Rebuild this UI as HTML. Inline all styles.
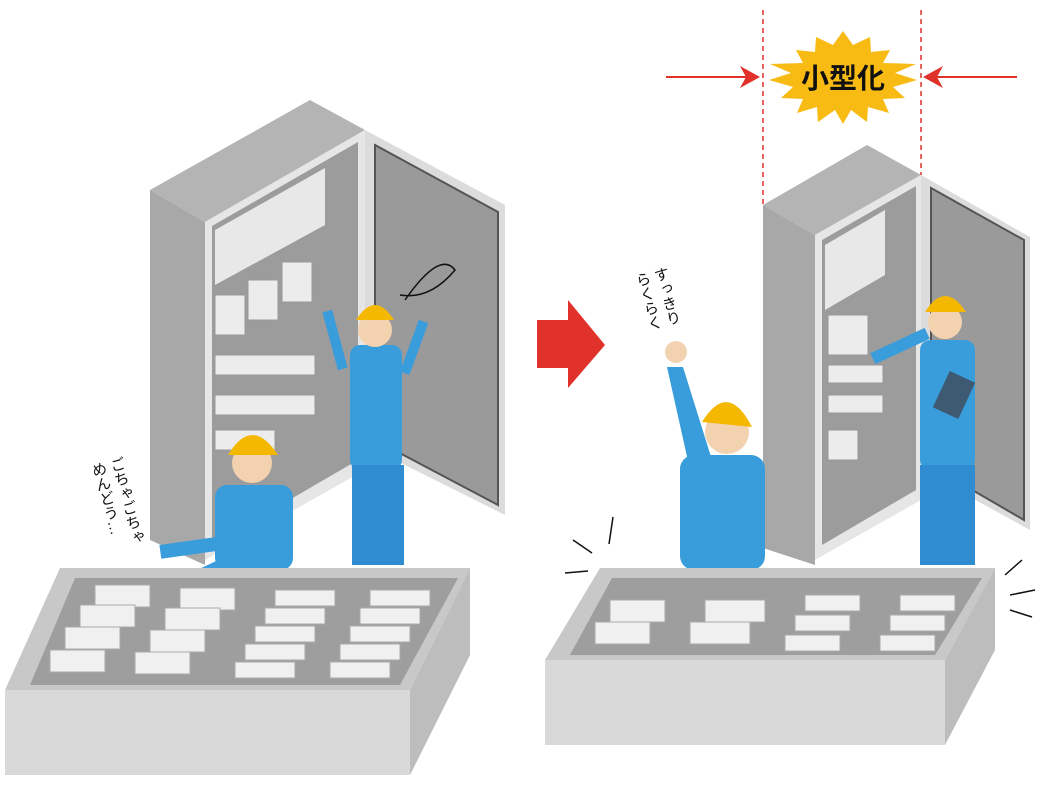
<!DOCTYPE html>
<html><head><meta charset="utf-8"><style>
html,body{margin:0;padding:0;background:#fff;width:1050px;height:800px;overflow:hidden;position:relative}
svg text{font-family:"Liberation Sans","Noto Sans CJK JP",sans-serif}
.v{position:absolute;writing-mode:vertical-rl;font-family:"Liberation Sans","Noto Sans CJK JP",sans-serif;font-size:15px;line-height:19px;color:#111;transform:rotate(-15deg);transform-origin:top right;white-space:nowrap}
</style></head><body>
<svg width="1050" height="800" viewBox="0 0 1050 800" xmlns="http://www.w3.org/2000/svg" style="position:absolute;left:0;top:0">
<!-- LEFT CABINET -->
<polygon points="150,190 310,100 365,130 205,222" fill="#b4b4b4"/>
<polygon points="150,190 205,222 205,565 150,540" fill="#a8a8a8"/>
<polygon points="205,222 365,130 365,470 205,560" fill="#e6e6e6"/>
<polygon points="212,226 358,142 358,460 212,545" fill="#9c9c9c"/>
<polygon points="215,230 325,168 325,225 215,285" fill="#e8e8e8"/>
<g fill="#ececec" stroke="#999" stroke-width="1">
<rect x="215" y="295" width="30" height="40"/><rect x="248" y="280" width="30" height="40"/><rect x="282" y="262" width="30" height="40"/>
<rect x="215" y="355" width="100" height="20"/><rect x="215" y="395" width="100" height="20"/><rect x="215" y="430" width="60" height="20"/>
</g>
<polygon points="365,130 505,205 505,515 365,445" fill="#dcdcdc"/>
<polygon points="375,145 498,212 498,505 375,440" fill="#9a9a9a" stroke="#555" stroke-width="2"/>
<path d="M405 300 Q440 250 455 270 Q430 300 400 295" fill="none" stroke="#111" stroke-width="1.5"/>
<!-- worker left standing -->
<rect x="350" y="345" width="52" height="125" rx="10" fill="#3a9ddb"/>
<rect x="352" y="465" width="52" height="100" fill="#2f8cd0"/>
<circle cx="375" cy="330" r="17" fill="#f3d2b0"/>
<path d="M356 320 Q375 290 394 320 Z" fill="#f5b800"/>
<rect x="330" y="310" width="10" height="60" fill="#3a9ddb" transform="rotate(-15 335 340)"/>
<rect x="410" y="320" width="10" height="55" fill="#3a9ddb" transform="rotate(20 415 345)"/>
<!-- worker left sitting -->
<rect x="215" y="485" width="78" height="85" rx="12" fill="#3a9ddb"/>
<circle cx="252" cy="463" r="20" fill="#f3d2b0"/>
<path d="M228 455 Q252 415 278 455 Z" fill="#f5b800"/>
<rect x="160" y="540" width="70" height="14" fill="#3a9ddb" transform="rotate(-8 195 547)"/>
<rect x="180" y="560" width="80" height="14" fill="#3a9ddb" transform="rotate(-25 220 567)"/>
<!-- LEFT BIN -->
<polygon points="5,690 60,568 470,568 410,690" fill="#c8c8c8"/>
<polygon points="30,685 75,578 458,578 400,685" fill="#9e9e9e"/>
<g fill="#f0f0f0" stroke="#aaa">
<rect x="95" y="585" width="55" height="22"/><rect x="80" y="605" width="55" height="22"/><rect x="65" y="627" width="55" height="22"/><rect x="50" y="650" width="55" height="22"/>
<rect x="180" y="588" width="55" height="22"/><rect x="165" y="608" width="55" height="22"/><rect x="150" y="630" width="55" height="22"/><rect x="135" y="652" width="55" height="22"/>
<rect x="275" y="590" width="60" height="16"/><rect x="265" y="608" width="60" height="16"/><rect x="255" y="626" width="60" height="16"/><rect x="245" y="644" width="60" height="16"/><rect x="235" y="662" width="60" height="16"/>
<rect x="370" y="590" width="60" height="16"/><rect x="360" y="608" width="60" height="16"/><rect x="350" y="626" width="60" height="16"/><rect x="340" y="644" width="60" height="16"/><rect x="330" y="662" width="60" height="16"/>
</g>
<polygon points="5,690 410,690 410,775 5,775" fill="#d9d9d9"/>
<polygon points="410,690 470,568 470,655 410,775" fill="#bdbdbd"/>
<!-- BIG ARROW -->
<polygon points="537,320 568,320 568,300 605,345 568,388 568,368 537,368" fill="#e0312a"/>
<!-- RIGHT CABINET -->
<polygon points="763,205 867,145 921,175 815,235" fill="#b4b4b4"/>
<polygon points="763,205 815,235 815,565 763,548" fill="#a8a8a8"/>
<polygon points="815,235 921,175 921,500 815,560" fill="#e6e6e6"/>
<polygon points="822,240 916,186 916,490 822,545" fill="#9c9c9c"/>
<polygon points="825,245 885,210 885,275 825,310" fill="#e8e8e8"/>
<g fill="#ececec" stroke="#999"><rect x="828" y="315" width="40" height="40"/><rect x="828" y="365" width="55" height="18"/><rect x="828" y="395" width="55" height="18"/><rect x="828" y="430" width="30" height="30"/></g>
<polygon points="921,175 1030,237 1030,530 921,470" fill="#dcdcdc"/>
<polygon points="931,188 1024,240 1024,520 931,466" fill="#9a9a9a" stroke="#555" stroke-width="2"/>
<!-- right workers -->
<rect x="920" y="340" width="55" height="130" rx="10" fill="#3a9ddb"/>
<rect x="920" y="465" width="55" height="100" fill="#2f8cd0"/>
<circle cx="945" cy="322" r="17" fill="#f3d2b0"/>
<path d="M925 312 Q945 280 966 312 Z" fill="#f5b800"/>
<rect x="870" y="340" width="60" height="12" fill="#3a9ddb" transform="rotate(-25 900 346)"/>
<rect x="940" y="375" width="28" height="40" fill="#3d5a72" transform="rotate(25 954 395)"/>
<rect x="680" y="455" width="85" height="115" rx="14" fill="#3a9ddb"/>
<circle cx="727" cy="432" r="22" fill="#f3d2b0"/>
<path d="M702 422 Q728 380 752 427 Z" fill="#f5b800"/>
<polygon points="667,367 683,367 712,460 690,470" fill="#3a9ddb"/>
<circle cx="676" cy="352" r="11" fill="#f3d2b0"/>
<g stroke="#111" stroke-width="1.5"><line x1="573" y1="540" x2="592" y2="553"/><line x1="565" y1="573" x2="588" y2="571"/><line x1="613" y1="517" x2="609" y2="544"/><line x1="1005" y1="575" x2="1022" y2="560"/><line x1="1010" y1="595" x2="1035" y2="590"/><line x1="1010" y1="610" x2="1032" y2="617"/></g>
<!-- RIGHT BIN -->
<polygon points="545,660 600,568 995,568 945,660" fill="#c8c8c8"/>
<polygon points="570,655 612,578 982,578 935,655" fill="#9e9e9e"/>
<g fill="#f0f0f0" stroke="#aaa">
<rect x="610" y="600" width="55" height="22"/><rect x="595" y="622" width="55" height="22"/>
<rect x="705" y="600" width="60" height="22"/><rect x="690" y="622" width="60" height="22"/>
<rect x="805" y="595" width="55" height="16"/><rect x="795" y="615" width="55" height="16"/><rect x="785" y="635" width="55" height="16"/>
<rect x="900" y="595" width="55" height="16"/><rect x="890" y="615" width="55" height="16"/><rect x="880" y="635" width="55" height="16"/>
</g>
<polygon points="545,660 945,660 945,745 545,745" fill="#d9d9d9"/>
<polygon points="945,660 995,568 995,650 945,745" fill="#bdbdbd"/>
<!-- dashed lines and arrows -->
<g stroke="#e0312a" stroke-width="1.5" stroke-dasharray="5,4"><line x1="763" y1="10" x2="763" y2="205"/><line x1="921" y1="10" x2="921" y2="175"/></g>
<g stroke="#e0312a" stroke-width="2"><line x1="666" y1="77" x2="748" y2="77"/><line x1="935" y1="77" x2="1017" y2="77"/></g>
<polygon points="760,77 740,66 746,77 740,88" fill="#e0312a"/>
<polygon points="923,77 943,66 937,77 943,88" fill="#e0312a"/>
<polygon fill="#f7bb14" points="843,31 853,45 870,37 871,52 890,50 883,63 916,64 895,73 917,80 893,87 905,98 883,99 889,113 868,107 867,122 851,110 843,124 835,110 818,122 817,107 797,113 803,99 781,98 793,87 769,80 791,73 770,64 803,63 796,50 815,52 816,37 833,45"/>
<text x="843" y="88" font-size="28" font-weight="bold" text-anchor="middle" fill="#111">小型化</text>
</svg>
<div class="v" style="left:86px;top:455px">ごちゃごちゃ<br>めんどう…</div>
<div class="v" style="left:630px;top:265px">すっきり<br>らくらく</div>
</body></html>
